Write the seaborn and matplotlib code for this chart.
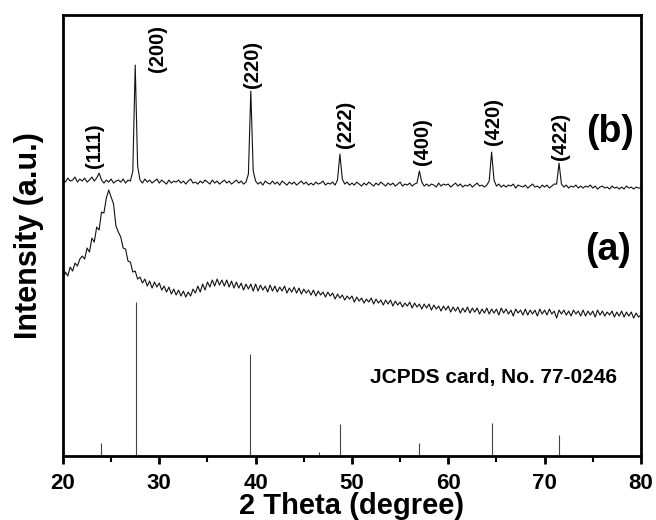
import numpy as np
import pandas as pd
import matplotlib
matplotlib.use("Agg")
import matplotlib.pyplot as plt
import seaborn as sns

# 2-theta grid (0.25 degree step)
two_theta = np.linspace(20, 80, 241)

# pattern (b): crystalline sample, arbitrary units
pattern_b = [
    277, 274, 278, 275, 276, 279, 274, 277,
    275, 278, 274, 276, 279, 275, 278, 283,
    276, 273, 276, 274, 277, 273, 275, 276,
    274, 277, 273, 276, 275, 285, 391, 290,
    276, 273, 277, 274, 276, 273, 275, 277,
    273, 276, 274, 272, 276, 273, 275, 274,
    276, 273, 275, 272, 275, 277, 273, 274,
    272, 275, 273, 276, 274, 272, 276, 273,
    275, 272, 274, 276, 273, 275, 272, 274,
    276, 273, 275, 272, 274, 282, 365, 285,
    275, 272, 274, 271, 275, 273, 272, 275,
    272, 274, 271, 275, 273, 271, 274, 272,
    274, 271, 273, 275, 272, 274, 271, 273,
    271, 274, 272, 273, 275, 271, 273, 272,
    274, 271, 276, 302, 277, 272, 274, 271,
    273, 271, 274, 272, 270, 273, 271, 274,
    272, 270, 273, 271, 274, 272, 270, 273,
    271, 273, 270, 272, 274, 270, 272, 271,
    273, 270, 272, 273, 285, 274, 270, 272,
    270, 272, 271, 269, 273, 270, 272, 271,
    272, 269, 271, 273, 270, 272, 269, 271,
    270, 272, 269, 271, 273, 270, 271, 269,
    271, 275, 304, 276, 270, 272, 269, 271,
    269, 271, 270, 272, 268, 271, 270, 269,
    271, 268, 270, 272, 269, 270, 268, 271,
    269, 271, 268, 270, 272, 272, 293, 272,
    269, 271, 268, 270, 269, 271, 268, 270,
    268, 270, 269, 271, 268, 270, 267, 269,
    270, 268, 269, 267, 270, 268, 269, 267,
    269, 267, 270, 268, 269, 267, 269, 268,
    268,
]

# pattern (a): amorphous sample
pattern_a = [
    176, 184, 180, 189, 185, 193, 190, 197,
    200, 197, 208, 204, 218, 214, 229, 226,
    244, 243, 258, 266, 259, 252, 230, 224,
    219, 208, 207, 195, 194, 184, 185, 177,
    179, 173, 177, 170, 175, 168, 174, 169,
    173, 166, 170, 164, 169, 162, 167, 161,
    166, 160, 165, 159, 164, 160, 167, 163,
    170, 164, 172, 166, 174, 169, 176, 170,
    177, 171, 176, 170, 176, 169, 175, 168,
    174, 168, 173, 166, 172, 167, 172, 165,
    172, 165, 171, 166, 170, 164, 171, 165,
    170, 164, 169, 165, 170, 163, 168, 164,
    169, 163, 168, 162, 167, 163, 166, 161,
    166, 160, 165, 161, 164, 159, 164, 160,
    163, 157, 162, 158, 161, 156, 160, 157,
    160, 154, 159, 155, 158, 153, 157, 154,
    158, 152, 157, 153, 156, 151, 156, 152,
    156, 150, 155, 151, 154, 149, 153, 150,
    154, 148, 153, 149, 152, 147, 152, 148,
    152, 146, 151, 147, 150, 145, 150, 146,
    150, 144, 149, 145, 149, 143, 148, 144,
    149, 143, 148, 144, 148, 142, 147, 143,
    148, 142, 147, 143, 147, 141, 148, 143,
    147, 142, 146, 140, 147, 143, 146, 141,
    147, 141, 146, 142, 146, 140, 147, 142,
    146, 141, 147, 142, 145, 138, 146, 142,
    146, 141, 145, 140, 146, 142, 145, 140,
    146, 140, 145, 141, 145, 139, 146, 141,
    145, 140, 144, 141, 145, 139, 144, 140,
    145, 139, 144, 140, 144, 138, 143, 139,
    141,
]

# JCPDS 77-0246 reference lines
card_pos = [23.9, 27.6, 39.4, 46.6, 48.8, 57.0, 62.7, 64.5, 71.5]
card_int = [13, 154, 102, 4, 32, 13, 1, 33, 21]

# peak labels
hkl_labels = ["(111)", "(200)", "(220)", "(222)", "(400)", "(420)", "(422)"]
hkl_x = [23.3, 29.8, 39.7, 49.3, 57.3, 64.7, 71.6]
hkl_y = [288, 384, 368, 308, 291, 311, 296]

sns.set_theme(style="ticks")
plt.rcParams["font.family"] = ["Liberation Sans", "DejaVu Sans"]
plt.rcParams["font.weight"] = "bold"
plt.rcParams["text.color"] = "black"
plt.rcParams["axes.labelcolor"] = "black"
plt.rcParams["xtick.color"] = "black"

fig = plt.figure(figsize=(6.56, 5.2), dpi=100)
ax = fig.add_axes([0.096, 0.123, 0.881, 0.848])

df = pd.DataFrame({"two_theta": two_theta, "a": pattern_a, "b": pattern_b})
sns.lineplot(data=df, x="two_theta", y="b", color="#111111", lw=0.8, ax=ax)
sns.lineplot(data=df, x="two_theta", y="a", color="#111111", lw=0.8, ax=ax)

ax.vlines(card_pos, 0, card_int, color="#444444", lw=0.8)

for lab, xx, yy in zip(hkl_labels, hkl_x, hkl_y):
    ax.text(xx, yy, lab, rotation=90, ha="center", va="bottom",
            fontsize=14.5, fontweight="bold")

ax.text(76.8, 324, "(b)", ha="center", va="center", fontsize=27, fontweight="bold")
ax.text(76.6, 206, "(a)", ha="center", va="center", fontsize=27, fontweight="bold")
ax.text(64.65, 79, "JCPDS card, No. 77-0246", ha="center", va="center",
        fontsize=15, fontweight="bold")

ax.set_xlim(20, 80)
ax.set_ylim(0, 441)
ax.set_xticks([20, 30, 40, 50, 60, 70, 80])
ax.set_xticks(np.arange(25, 80, 10), minor=True)
ax.set_yticks([])
ax.tick_params(axis="x", which="major", length=6, width=2, labelsize=16,
               direction="out", pad=6, colors="black")
ax.tick_params(axis="x", which="minor", length=4, width=1.5, direction="out",
               colors="black")
for s in ax.spines.values():
    s.set_linewidth(2)
    s.set_color("black")

ax.set_xlabel("2 Theta (degree)", fontsize=21, fontweight="bold", labelpad=-1)
ax.set_ylabel("Intensity (a.u.)", fontsize=22, fontweight="bold", labelpad=14)

fig.savefig("out.png", dpi=100)
